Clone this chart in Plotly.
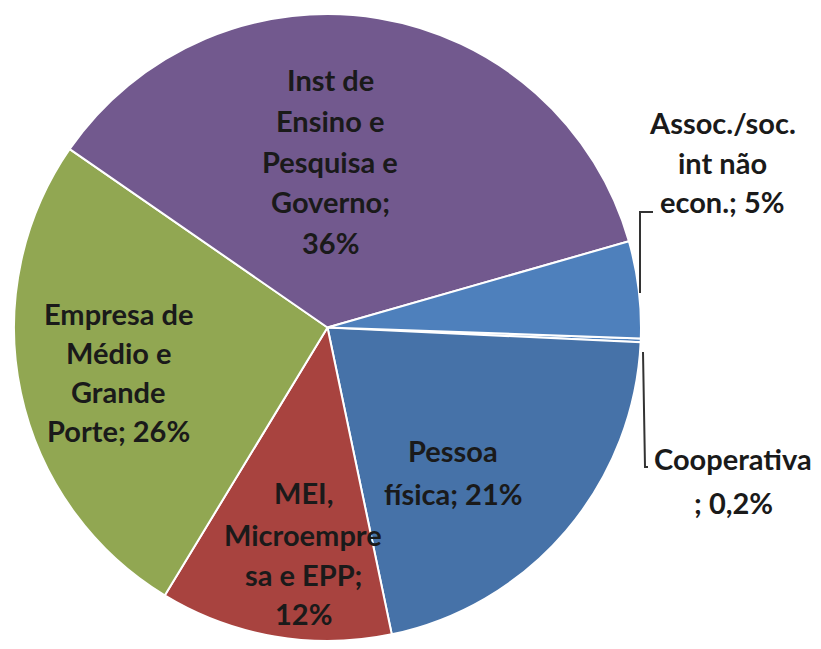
import plotly.graph_objects as go

W, H = 821, 649
OFF = 8  # page body margin offset compensation

labels = ["Cooperativa", "Pessoa física", "MEI, Microempresa e EPP",
          "Empresa de Médio e Grande Porte", "Inst de Ensino e Pesquisa e Governo",
          "Assoc./soc. int não econ."]
values = [0.2, 21, 12, 26, 36, 5]
colors = ["#4F81BD", "#4672A8", "#A8433F", "#91A752", "#72598E", "#4E80BC"]

label_lines = [
    ["Cooperativa", "; 0,2%"],
    ["Pessoa", "física; 21%"],
    ["MEI,", "Microempre", "sa e EPP;", "12%"],
    ["Empresa de", "Médio e", "Grande", "Porte; 26%"],
    ["Inst de", "Ensino e", "Pesquisa e", "Governo;", "36%"],
    ["Assoc./soc.", "int não", "econ.; 5%"],
]
# centre x and line centre y's in pixels (reference image coordinates)
label_x = [733, 453, 303, 118, 330, 722]
label_y = [
    [458, 502],
    [450, 493],
    [492, 534, 574, 613],
    [313, 352, 391, 430],
    [79, 120, 161, 202, 242],
    [123, 162, 202],
]

def px(x, y):
    return (x - OFF) / W, 1 - (y - OFF) / H

x0, y0 = px(14, 643)
x1, y1 = px(641, 12)
fig = go.Figure(go.Pie(
    labels=labels, values=values, sort=False, direction="clockwise",
    rotation=92, textinfo="none", hoverinfo="label+percent",
    marker=dict(colors=colors, line=dict(color="white", width=2)),
    domain=dict(x=[x0, x1], y=[y0, y1]),
    showlegend=False,
))

FONT = dict(family="Lato", size=29, color="#1a1a1a")
for lines_, x, ys in zip(label_lines, label_x, label_y):
    for t, y in zip(lines_, ys):
        ax, ay = px(x, y)
        fig.add_annotation(x=ax, y=ay, xref="paper", yref="paper", text="<b>" + t + "</b>",
                           showarrow=False, font=FONT, align="center",
                           xanchor="center", yanchor="middle")

# leader lines
leaders = [
    [(640, 293), (640, 212), (653, 212)],
    [(643, 352), (645, 467), (648, 467)],
]
for pts in leaders:
    path = "M " + " L ".join(f"{px(x, y)[0]} {px(x, y)[1]}" for x, y in pts)
    fig.add_shape(type="path", path=path, xref="paper", yref="paper",
                  line=dict(color="#333333", width=2))

fig.update_layout(width=W, height=H, margin=dict(l=0, r=0, t=0, b=0),
                  paper_bgcolor="white", plot_bgcolor="white")
fig.write_html("out.html")
